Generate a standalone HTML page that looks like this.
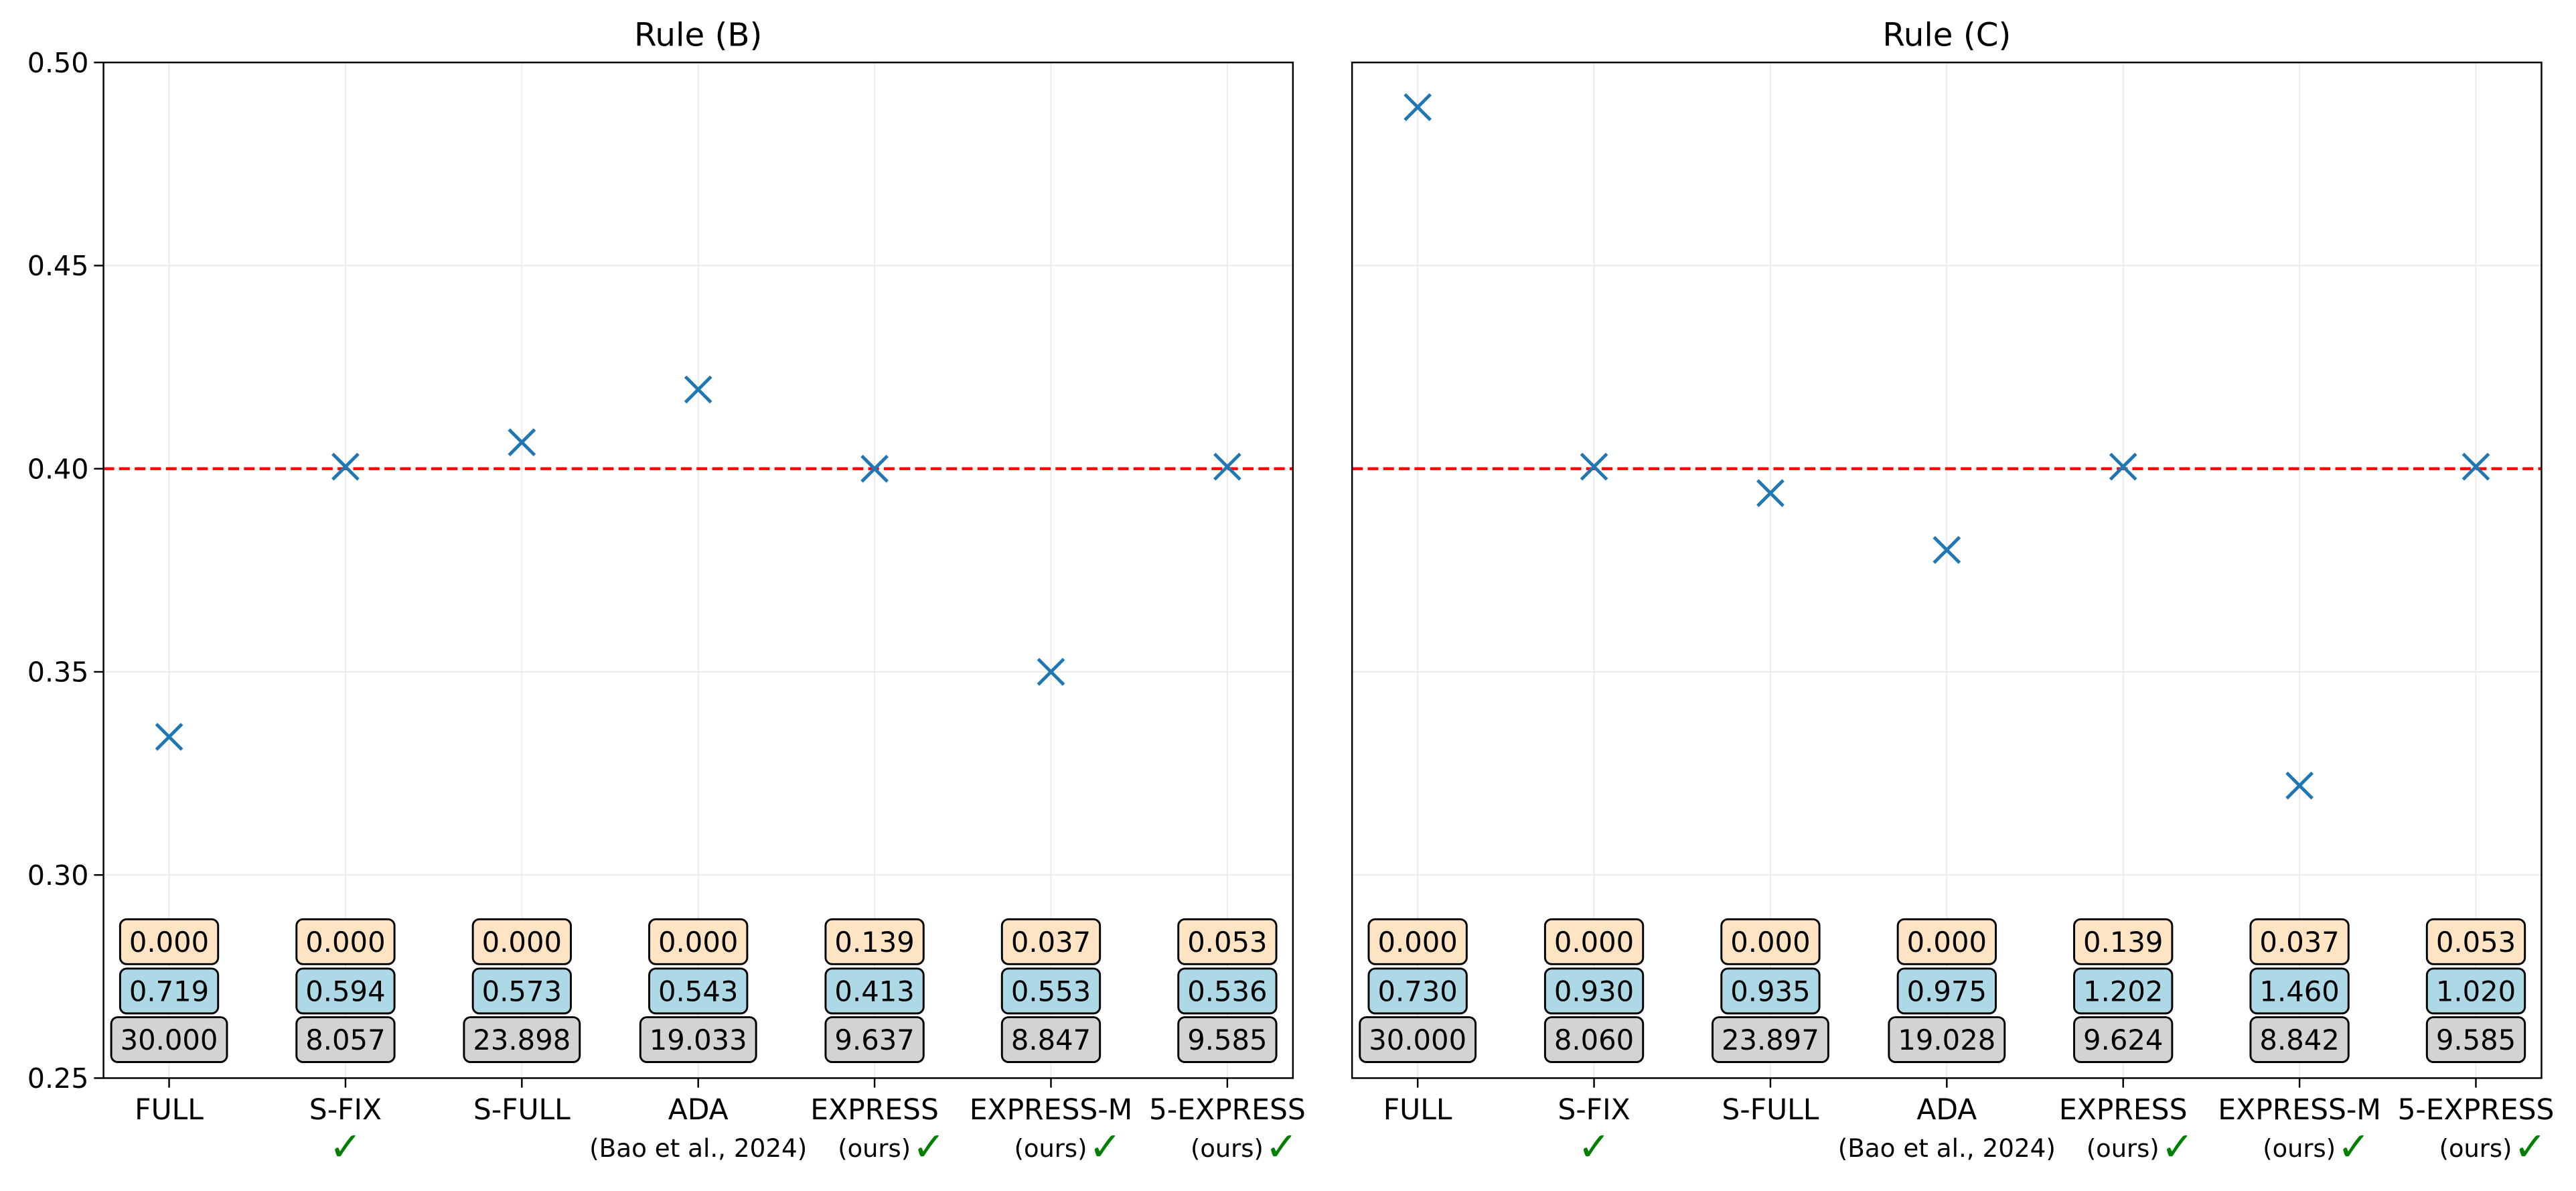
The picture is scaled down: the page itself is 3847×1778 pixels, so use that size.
<!DOCTYPE html>
<html><head><meta charset="utf-8"><style>
html,body{margin:0;padding:0;background:#fff;}
svg{display:block;font-family:"DejaVu Sans","Liberation Sans",sans-serif;}
</style></head><body>
<svg id="chart" width="3847" height="1778" viewBox="0 0 1568 724.7" preserveAspectRatio="none" xmlns="http://www.w3.org/2000/svg"></svg>
<script>
const categories = ["FULL","S-FIX","S-FULL","ADA","EXPRESS","EXPRESS-M","5-EXPRESS"];
const subLabels = ["","","","(Bao et al., 2024)","(ours)","(ours)","(ours)"];
const checks = [false,true,false,false,true,true,true];
const valuesB = [0.334,0.4005,0.4065,0.4195,0.400,0.350,0.4005];
const valuesC = [0.489,0.4005,0.394,0.380,0.4005,0.322,0.4005];
const topB = ["0.000","0.000","0.000","0.000","0.139","0.037","0.053"];
const midB = ["0.719","0.594","0.573","0.543","0.413","0.553","0.536"];
const botB = ["30.000","8.057","23.898","19.033","9.637","8.847","9.585"];
const topC = ["0.000","0.000","0.000","0.000","0.139","0.037","0.053"];
const midC = ["0.730","0.930","0.935","0.975","1.202","1.460","1.020"];
const botC = ["30.000","8.060","23.897","19.028","9.624","8.842","9.585"];
const yTicks = [0.25,0.30,0.35,0.40,0.45,0.50];
const yTickLabels = ["0.25","0.30","0.35","0.40","0.45","0.50"];
const refLine = 0.40;

const NS="http://www.w3.org/2000/svg";
const svg=document.getElementById('chart');
function el(tag,attrs,parent){const e=document.createElementNS(NS,tag);for(const k in attrs)e.setAttribute(k,attrs[k]);(parent||svg).appendChild(e);return e;}
const yTop=38, yBot=656, yMin=0.25, yMax=0.50;
function yS(v){return yBot-(v-yMin)/(yMax-yMin)*(yBot-yTop);}
function tw(s,fs){let w=0;for(const c of s)w+=(c==='.'?0.318:0.636);return w*fs;}

function panel(x0,x1,title,vals,tops,mids,bots,showY,key){
  const g=el('g',{});
  
  
  const lo=-0.372, hi=6.372;
  const xS=i=>x0+(i-lo)/(hi-lo)*(x1-x0);
  categories.forEach((c,i)=>{const l=el('line',{x1:xS(i),x2:xS(i),y1:yTop,y2:yBot,stroke:'#ebebeb','stroke-width':0.8},g);
    });
  yTicks.forEach((v,i)=>{const l=el('line',{x1:x0,x2:x1,y1:yS(v),y2:yS(v),stroke:'#ebebeb','stroke-width':0.8},g);
    
    if(showY){
      const t=el('line',{x1:x0-5.8,x2:x0,y1:yS(v),y2:yS(v),stroke:'#000','stroke-width':1},g);
      
      const tx=el('text',{x:x0-9,y:yS(v)+6,'text-anchor':'end','font-size':16.8},g);tx.textContent=yTickLabels[i];
      
    }});
  const rl=el('line',{x1:x0,x2:x1,y1:yS(refLine),y2:yS(refLine),stroke:'#ff0000','stroke-width':1.8,'stroke-dasharray':'6.5 3'},g);
  
  vals.forEach((v,i)=>{const cx=xS(i),cy=yS(v),s=7.8;
    const m=el('path',{d:`M${cx-s} ${cy-s}L${cx+s} ${cy+s}M${cx-s} ${cy+s}L${cx+s} ${cy-s}`,stroke:'#1f77b4','stroke-width':2,fill:'none'},g);
    });
  const rows=[[tops,573,'#ffe4c4'],[mids,603,'#add8e6'],[bots,632.6,'#d3d3d3']];
  rows.forEach(([arr,cy,fill],r)=>{arr.forEach((s,i)=>{
    const fs=17;
    const w=tw(s,fs)+11,h=27.3,cx=xS(i);
    const b=el('rect',{x:cx-w/2,y:cy-h/2,width:w,height:h,rx:4,fill:fill,stroke:'#000','stroke-width':1.2},g);
    
    const t=el('text',{x:cx,y:cy+6.2,'text-anchor':'middle','font-size':fs},g);t.textContent=s;
    
  });});
  const f=el('rect',{x:x0,y:yTop,width:x1-x0,height:yBot-yTop,fill:'none',stroke:'#000','stroke-width':1},g);
  
  categories.forEach((c,i)=>{const x=xS(i);
    const t=el('line',{x1:x,x2:x,y1:yBot,y2:yBot+5.8,stroke:'#000','stroke-width':1},g);
    
    const lb=el('text',{x:x,y:681,'text-anchor':'middle','font-size':17.3},g);lb.textContent=c;
    
    const sub=subLabels[i];
    if(sub==='(ours)'){
      const s=el('text',{x:x+22,y:704,'text-anchor':'end','font-size':15},g);s.textContent=sub;
      
    } else if(sub){
      const s=el('text',{x:x,y:704,'text-anchor':'middle','font-size':15.2},g);s.textContent=sub;
      
    }
    if(checks[i]){
      const cx = sub==='(ours)'? x+23 : x-10;
      const ck=el('text',{x:cx,y:706,'font-size':24,fill:'#008000'},g);ck.textContent='✓';
      
    }
  });
  const tt=el('text',{x:(x0+x1)/2,y:28,'text-anchor':'middle','font-size':19.7},g);tt.textContent=title;
  
}
panel(63,787,'Rule (B)',valuesB,topB,midB,botB,true,'rule-b');
panel(823,1547,'Rule (C)',valuesC,topC,midC,botC,false,'rule-c');
</script>
</body></html>
